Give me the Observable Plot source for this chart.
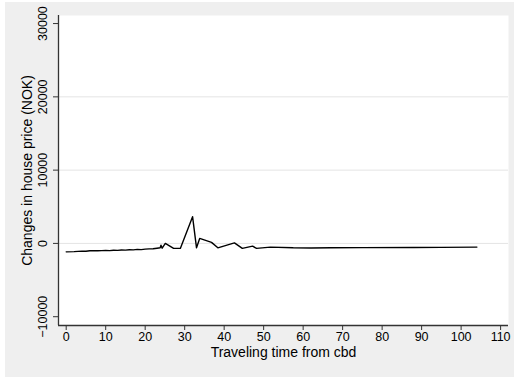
<!DOCTYPE html>
<html>
<head>
<meta charset="utf-8">
<script src="https://cdn.jsdelivr.net/npm/d3@7"></script>
<script src="https://cdn.jsdelivr.net/npm/@observablehq/plot@0.6"></script>
<style>
  html, body { margin: 0; padding: 0; background: #ffffff; }
  #wrap { position: relative; width: 514px; height: 379px; overflow: hidden; }
  #bg { position: absolute; left: 5px; top: 2px; width: 509px; height: 375px; background: #efefef; }
  #chart { position: absolute; left: 0; top: 0; }
  #chart svg { background: transparent !important; }
</style>
</head>
<body>
<div id="wrap"><div id="bg"></div><div id="chart"></div></div>
<script>
// Traveling time from cbd (minutes)
const travelTime = [0, 2, 4, 5, 6, 8, 9, 10, 11, 12, 13, 14, 15, 16, 17, 18, 19, 20, 21, 22, 23, 23.8, 24, 24.3, 25.1, 27.2, 28.9, 32.0, 33.0, 33.8, 36.8, 38.4, 42.6, 44.6, 47.2, 48.2, 51.7, 57.5, 62, 67, 75, 88, 95, 104];
// Changes in house price (NOK)
const priceChange = [-1150, -1120, -1050, -1070, -1000, -1010, -980, -960, -990, -930, -950, -900, -920, -870, -880, -820, -840, -780, -740, -720, -650, -600, -250, -650, 0, -680, -680, 3650, -600, 680, 140, -600, 80, -680, -370, -680, -500, -600, -620, -600, -580, -560, -540, -500];
const xTicks = [0, 10, 20, 30, 40, 50, 60, 70, 80, 90, 100, 110];
const yTicks = [-10000, 0, 10000, 20000, 30000];
const yGrid = [0, 10000, 20000];
const xTitle = "Traveling time from cbd";
const yTitle = "Changes in house price (NOK)";

const data = travelTime.map((t, i) => ({t, v: priceChange[i]}));
const xDom = [-1.95, 112.0];
const yDom = [-11200, 31100];
const font = "'Liberation Sans', Arial, Helvetica, sans-serif";
const pxPerX = (514 - 6 - 58) / (xDom[1] - xDom[0]);

const chart = Plot.plot({
  width: 514,
  height: 379,
  marginLeft: 58,
  marginRight: 6,
  marginTop: 15,
  marginBottom: 54,
  style: {fontFamily: font, fontSize: "12.5px", color: "#000", background: "transparent"},
  x: {type: "linear", domain: xDom, axis: null},
  y: {type: "linear", domain: yDom, axis: null},
  marks: [
    Plot.frame({fill: "white", stroke: null}),
    Plot.ruleY(yGrid, {stroke: "#e4e4e4", strokeWidth: 1}),
    Plot.ruleX([xDom[0]], {stroke: "#333", strokeWidth: 1.3}),
    Plot.ruleY([yDom[0]], {stroke: "#333", strokeWidth: 1.3}),
    Plot.ruleY(yTicks, {x1: xDom[0], x2: xDom[0] + 5 / pxPerX, dx: -5, stroke: "#333", strokeWidth: 1}),
    Plot.axisX(xTicks, {ticks: xTicks, tickSize: 5, tickPadding: 2, tickFormat: d => String(d), fontSize: 12.5, stroke: "#333", label: null}),
    Plot.text(yTicks, {x: xDom[0], y: d => d, text: d => String(d).replace("-", "\u2212"), rotate: -90, dx: -16, textAnchor: "middle", fontSize: 12.5, fill: "#000"}),
    Plot.text([xTitle], {frameAnchor: "bottom", dy: 31, textAnchor: "middle", fontSize: 14, fill: "#000"}),
    Plot.text([yTitle], {frameAnchor: "left", rotate: -90, dx: -31, textAnchor: "middle", fontSize: 14, fill: "#000"}),
    Plot.line(data, {x: "t", y: "v", stroke: "#000", strokeWidth: 1.4})
  ]
});
document.getElementById("chart").appendChild(chart);
</script>
</body>
</html>
